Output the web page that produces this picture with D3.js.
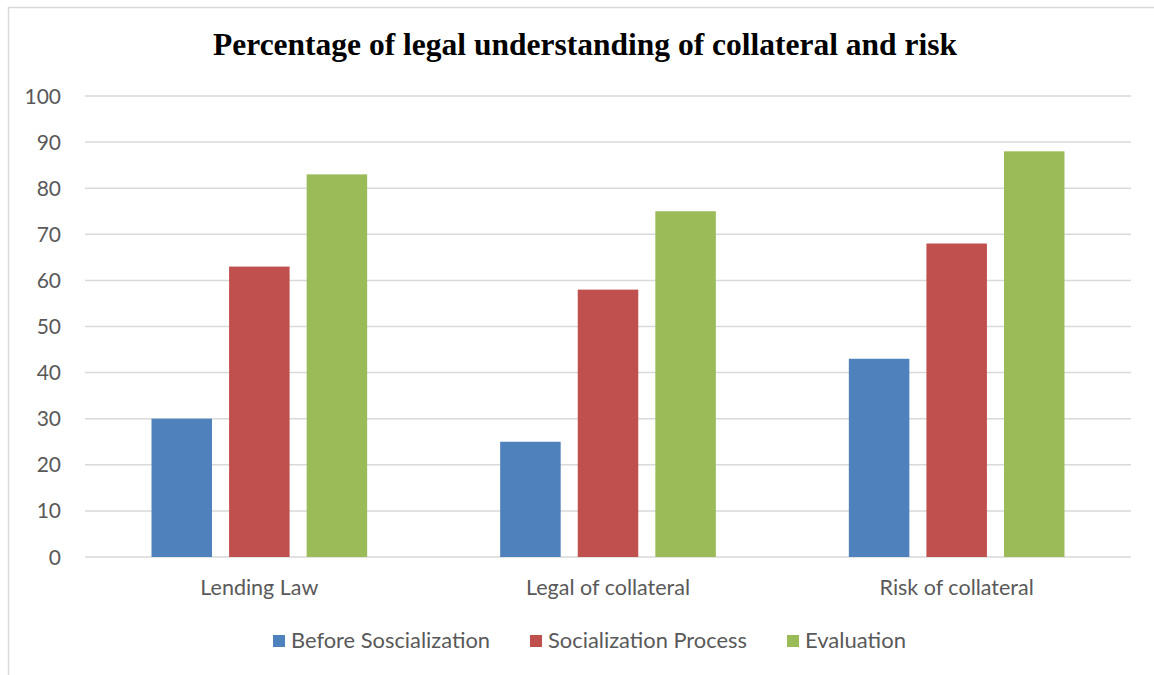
<!DOCTYPE html>
<html>
<head>
<meta charset="utf-8">
<script src="https://cdn.jsdelivr.net/npm/d3@7"></script>
<style>
	body { margin: 0; background: #fff; }
	svg { display: block; }
</style>
</head>
<body>
<svg id="chart" width="1154" height="675"></svg>
<script>
var categories = ['Lending Law', 'Legal of collateral', 'Risk of collateral'];
var seriesNames = ['Before Soscialization', 'Socialization Process', 'Evaluation'];
var beforeValues = [30, 25, 43];
var processValues = [63, 58, 68];
var evaluationValues = [83, 75, 88];
var yTicks = [0, 10, 20, 30, 40, 50, 60, 70, 80, 90, 100];
var colors = ['#4f81bd', '#c0504d', '#9bbb59'];

(function () {
	var allSeries = [beforeValues, processValues, evaluationValues];

	var svg = d3.select('#chart');
	var font = 'Lato, "Open Sans", sans-serif';

	// outer frame (right and bottom edges run off the page)
	svg.append('rect')
		.attr('x', 8.5).attr('y', 7.5)
		.attr('width', 1160).attr('height', 700)
		.attr('fill', 'none')
		.attr('stroke', '#d9d9d9')
		.attr('stroke-width', 1.5);

	var plotLeft = 85, plotRight = 1131, plotTop = 96, plotBottom = 557;

	var x0 = d3.scaleBand()
		.domain(categories)
		.range([plotLeft, plotRight])
		.paddingInner(0).paddingOuter(0);

	var x1 = d3.scaleBand()
		.domain(seriesNames)
		.range([66.5, x0.bandwidth() - 66.5])
		.paddingInner(0.22).paddingOuter(0);

	var y = d3.scaleLinear().domain([0, 100]).range([plotBottom, plotTop]);

	// gridlines
	svg.append('g')
		.selectAll('line')
		.data(yTicks)
		.enter()
		.append('line')
		.attr('x1', plotLeft).attr('x2', plotRight)
		.attr('y1', d => y(d)).attr('y2', d => y(d))
		.attr('stroke', '#d9d9d9')
		.attr('stroke-width', 1.5);

	// y labels
	svg.append('g')
		.selectAll('text')
		.data(yTicks)
		.enter()
		.append('text')
		.attr('x', 61)
		.attr('y', d => y(d))
		.attr('dy', '0.36em')
		.attr('text-anchor', 'end')
		.attr('font-family', font)
		.attr('font-size', 21)
		.attr('fill', '#595959')
		.text(d => d);

	// bars
	var groups = svg.append('g')
		.selectAll('g')
		.data(categories)
		.enter()
		.append('g')
		.attr('transform', d => 'translate(' + x0(d) + ',0)');

	groups.selectAll('rect')
		.data((d, i) => seriesNames.map(function(s, j) {
			return { series: s, value: allSeries[j][i], color: colors[j] };
		}))
		.enter()
		.append('rect')
		.attr('x', d => x1(d.series))
		.attr('width', x1.bandwidth())
		.attr('y', d => y(d.value))
		.attr('height', d => y(0) - y(d.value))
		.attr('fill', d => d.color);

	// x labels
	svg.append('g')
		.selectAll('text')
		.data(categories)
		.enter()
		.append('text')
		.attr('x', d => x0(d) + x0.bandwidth() / 2)
		.attr('y', 595)
		.attr('text-anchor', 'middle')
		.attr('font-family', font)
		.attr('font-size', 21.5)
		.attr('fill', '#595959')
		.text(d => d);

	// title
	svg.append('text')
		.attr('x', 585)
		.attr('y', 55)
		.attr('text-anchor', 'middle')
		.attr('font-family', '"Liberation Serif", "DejaVu Serif", serif')
		.attr('font-weight', 'bold')
		.attr('font-size', 31.5)
		.attr('fill', '#000')
		.text('Percentage of legal understanding of collateral and risk');

	// legend
	var legendX = [273, 530, 787];
	var legendTextW = [199, 199, 101];
	var legend = svg.append('g')
		.selectAll('g')
		.data(seriesNames)
		.enter()
		.append('g')
		.attr('transform', (d, i) => 'translate(' + legendX[i] + ',635)');

	legend.append('rect')
		.attr('width', 12).attr('height', 12)
		.attr('fill', (d, i) => colors[i]);

	legend.append('text')
		.attr('x', 18)
		.attr('y', 13)
		.attr('font-family', font)
		.attr('font-size', 21.5)
		.attr('fill', '#595959')
		.attr('textLength', (d, i) => legendTextW[i])
		.attr('lengthAdjust', 'spacingAndGlyphs')
		.text(d => d);
})();
</script>
</body>
</html>
